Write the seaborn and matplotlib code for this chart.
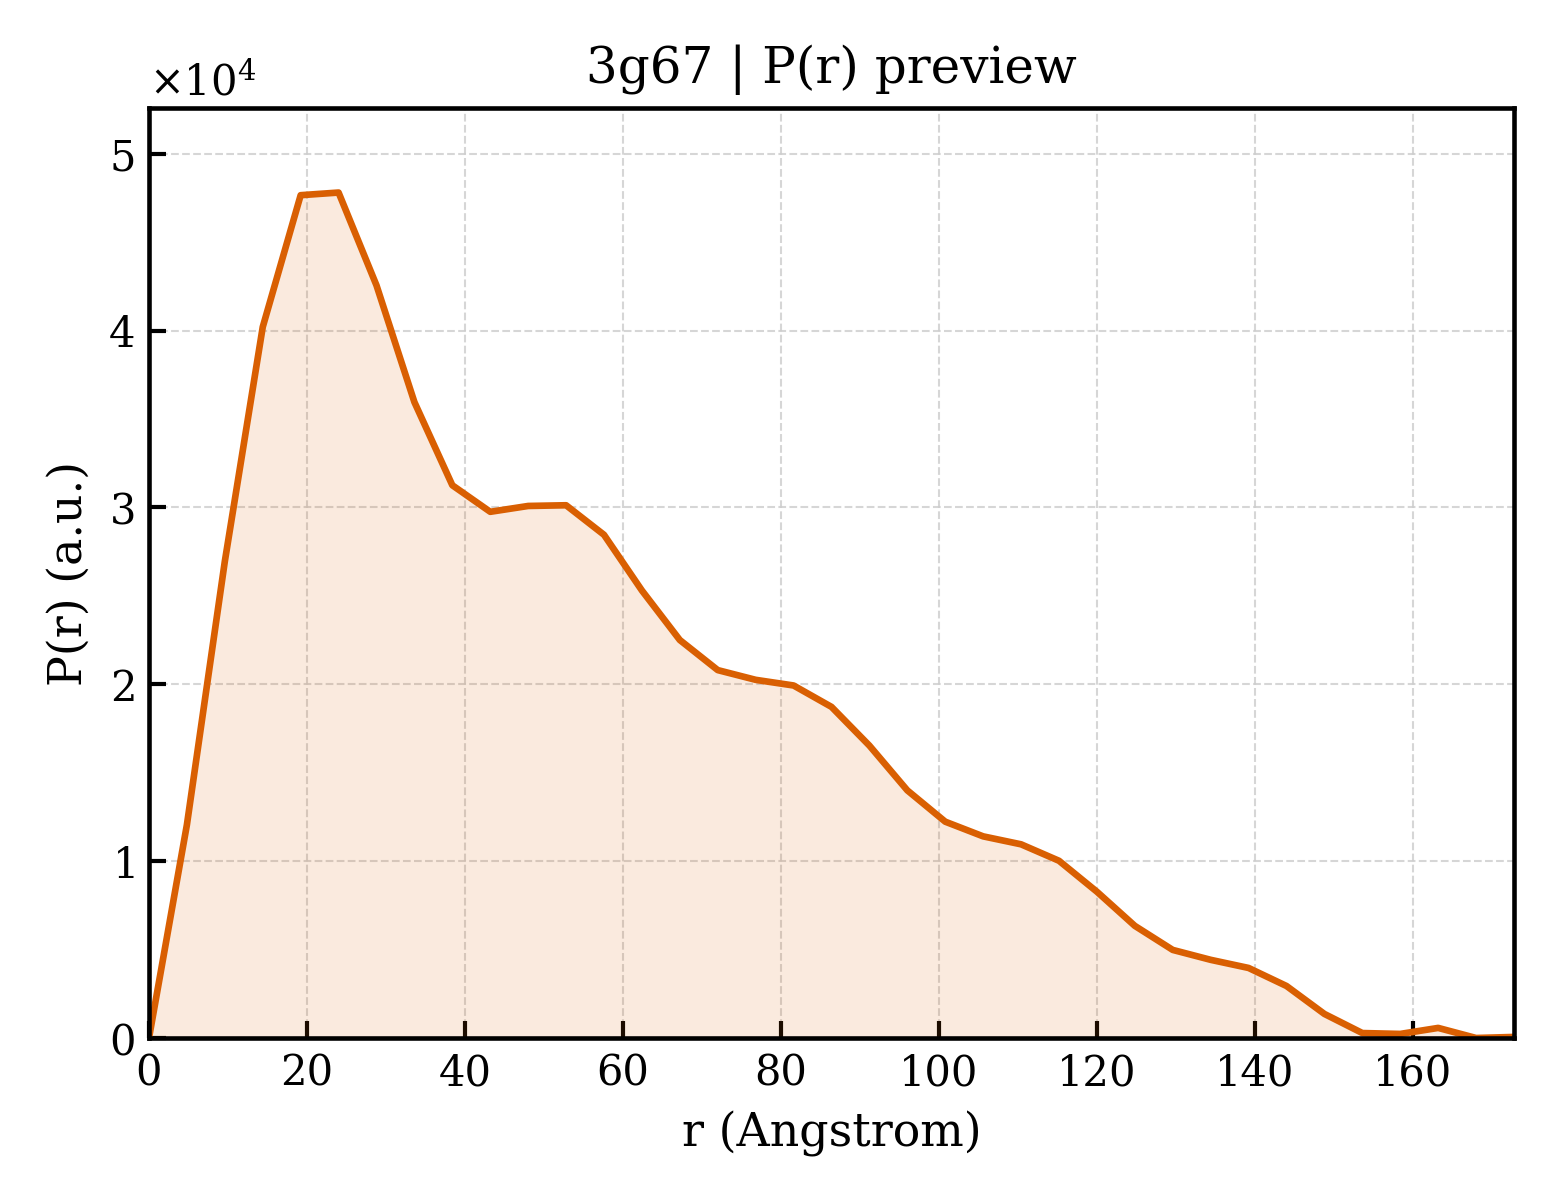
import numpy as np
import pandas as pd
import matplotlib
matplotlib.use("Agg")
import matplotlib.pyplot as plt
import seaborn as sns

r_values = [0.0, 4.8, 9.6, 14.4, 19.2, 24.0, 28.8, 33.6, 38.4, 43.2, 48.0, 52.8,
            57.6, 62.4, 67.2, 72.0, 76.8, 81.6, 86.4, 91.2, 96.0, 100.8, 105.6,
            110.4, 115.2, 120.0, 124.8, 129.6, 134.4, 139.2, 144.0, 148.8, 153.6,
            158.4, 163.2, 168.0, 172.8]
pr_values = [0, 12060, 26950, 40200, 47650, 47800, 42550, 35950, 31250, 29750,
             30080, 30120, 28450, 25300, 22500, 20800, 20250, 19930, 18720, 16530,
             14000, 12230, 11400, 10950, 10020, 8270, 6340, 4980, 4420, 3960, 2940,
             1360, 280, 230, 570, 0, 60]

title_text = "3g67 | P(r) preview"
x_label = "r (Angstrom)"
y_label = "P(r) (a.u.)"
line_color = "#D95F02"

df = pd.DataFrame({"r": r_values, "pr": pr_values})

sns.set_theme(style="white")
plt.rcParams["font.family"] = ["DejaVu Serif"]
plt.rcParams["mathtext.fontset"] = "dejavuserif"
plt.rcParams["text.color"] = "black"
plt.rcParams["axes.labelcolor"] = "black"
plt.rcParams["xtick.color"] = "black"
plt.rcParams["ytick.color"] = "black"

fig = plt.figure(figsize=(5.2, 4), dpi=300)
ax = fig.add_axes([149/1560, 1 - 1038/1200, (1514-149)/1560, (1038-108)/1200])

ax.fill_between(df["r"], df["pr"], 0, color=line_color, alpha=0.13, linewidth=0)
sns.lineplot(data=df, x="r", y="pr", ax=ax, color=line_color, linewidth=1.6)

ax.set_xlim(0, max(r_values))
ax.set_ylim(0, 1.1 * max(pr_values))
ax.ticklabel_format(axis="y", style="sci", scilimits=(0, 0), useMathText=True)
ax.yaxis.get_offset_text().set_fontsize(10)

ax.set_title(title_text, fontsize=12, color="black")
ax.set_xlabel(x_label, fontsize=11)
ax.set_ylabel(y_label, fontsize=11)
ax.tick_params(direction="in", length=4, width=1, labelsize=10, left=True, bottom=True,
               colors="black")
ax.grid(True, linestyle="--", linewidth=0.5, color="#cccccc", alpha=0.8)
for s in ax.spines.values():
    s.set_color("black")
    s.set_linewidth(1.1)

fig.savefig("out.png", dpi=300)
